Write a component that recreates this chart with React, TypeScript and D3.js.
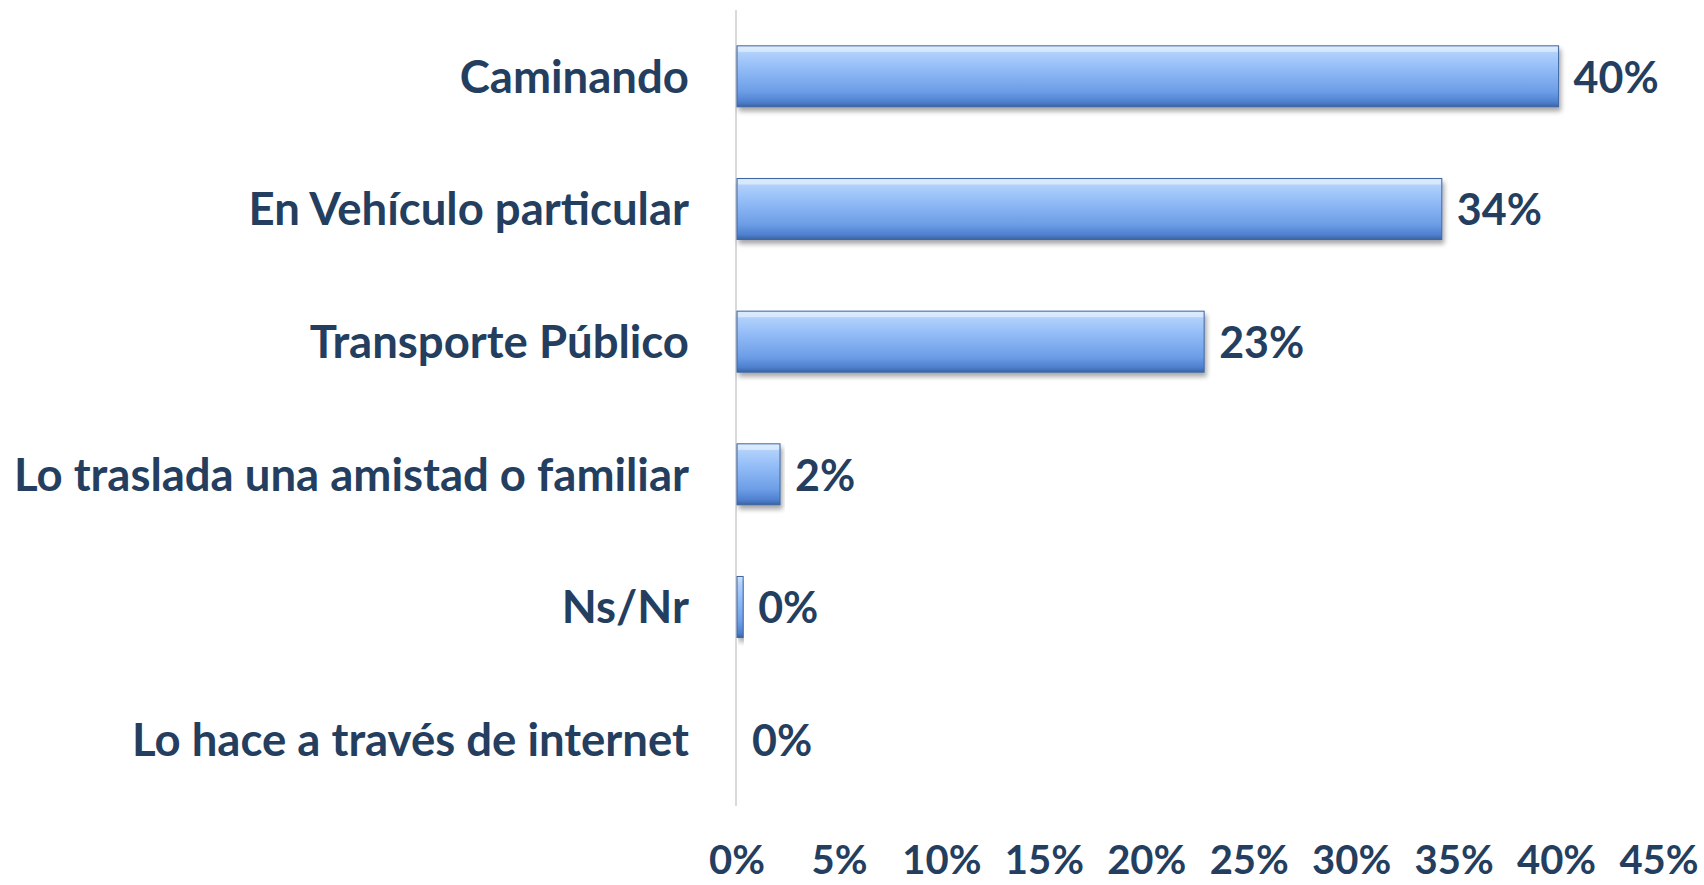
import React, { useEffect, useRef } from 'react';
import * as d3 from 'd3';

// categorias y valores (%)
const categorias = [
  'Caminando',
  'En Vehículo particular',
  'Transporte Público',
  'Lo traslada una amistad o familiar',
  'Ns/Nr',
  'Lo hace a través de internet',
];
const valores = [40.1, 34.4, 22.8, 2.1, 0.3, 0.0];
const ticks = [0, 5, 10, 15, 20, 25, 30, 35, 40, 45];

const App = () => {
  const chartRef = useRef<HTMLDivElement>(null);

  useEffect(() => {
    document.body.style.margin = '0';
    const W = 1704;
    const H = 885;
    const left = 737;
    const top = 10;
    const plotBottom = 806;
    const textColor = '#243e60';
    const font = 'Lato, "Open Sans", sans-serif';

    d3.select(chartRef.current).select('svg').remove();
    const svg = d3
      .select(chartRef.current)
      .append('svg')
      .attr('width', W)
      .attr('height', H)
      .style('display', 'block')
      .style('font-family', font);

    const defs = svg.append('defs');
    const grad = defs
      .append('linearGradient')
      .attr('id', 'barGrad')
      .attr('x1', 0)
      .attr('y1', 0)
      .attr('x2', 0)
      .attr('y2', 1);
    [
      ['0%', '#cfe3fb'],
      ['12%', '#b0d0fb'],
      ['35%', '#95bef8'],
      ['75%', '#6c9de6'],
      ['92%', '#4e80cf'],
      ['100%', '#3b63a0'],
    ].forEach(([o, c]) => grad.append('stop').attr('offset', o).attr('stop-color', c));

    const shadow = defs.append('filter').attr('id', 'sombra').attr('x', '-5%').attr('y', '-20%').attr('width', '115%').attr('height', '160%');
    shadow.append('feGaussianBlur').attr('in', 'SourceAlpha').attr('stdDeviation', 2.5);
    shadow.append('feOffset').attr('dx', 2).attr('dy', 4).attr('result', 'off');
    shadow.append('feComponentTransfer').append('feFuncA').attr('type', 'linear').attr('slope', 0.35);
    const merge = shadow.append('feMerge');
    merge.append('feMergeNode');
    merge.append('feMergeNode').attr('in', 'SourceGraphic');

    const x = d3.scaleLinear().domain([0, 45]).range([left, 1659]);
    const y = d3.scaleBand().domain(categorias).range([top, plotBottom]).paddingInner(0.54).paddingOuter(0.27);

    const datos = categorias.map((c, i) => ({ cat: c, val: valores[i] }));

    // eje vertical
    svg
      .append('line')
      .attr('x1', left - 1)
      .attr('x2', left - 1)
      .attr('y1', top)
      .attr('y2', plotBottom)
      .attr('stroke', '#d9d9d9')
      .attr('stroke-width', 2);

    // barras
    const barras = svg.append('g');
    barras
      .selectAll('rect.bar')
      .data(datos.filter(d => d.val > 0))
      .enter()
      .append('rect')
      .attr('class', 'bar')
      .attr('x', x(0))
      .attr('y', d => y(d.cat)!)
      .attr('width', d => x(d.val) - x(0))
      .attr('height', y.bandwidth())
      .attr('fill', 'url(#barGrad)')
      .attr('stroke', '#3e66a3')
      .attr('stroke-width', 1)
      .attr('filter', 'url(#sombra)');

    // brillo superior (bisel)
    barras
      .selectAll('rect.brillo')
      .data(datos.filter(d => x(d.val) - x(0) > 8))
      .enter()
      .append('rect')
      .attr('class', 'brillo')
      .attr('x', x(0) + 1)
      .attr('y', d => y(d.cat)! + 1)
      .attr('width', d => x(d.val) - x(0) - 2)
      .attr('height', 5)
      .attr('fill', '#e2effd')
      .attr('opacity', 0.7);

    // etiquetas de categoria
    svg
      .append('g')
      .selectAll('text')
      .data(datos)
      .enter()
      .append('text')
      .attr('x', 689)
      .attr('y', d => y(d.cat)! + y.bandwidth() / 2)
      .attr('dy', '0.36em')
      .attr('text-anchor', 'end')
      .style('font-size', '45.5px')
      .style('font-weight', 'bold')
      .attr('fill', textColor)
      .text(d => d.cat);

    // valores
    svg
      .append('g')
      .selectAll('text')
      .data(datos)
      .enter()
      .append('text')
      .attr('x', d => x(d.val) + 15)
      .attr('y', d => y(d.cat)! + y.bandwidth() / 2)
      .attr('dy', '0.38em')
      .style('font-size', '43px')
      .style('font-weight', 'bold')
      .attr('fill', textColor)
      .text(d => `${Math.round(d.val)}%`);

    // eje x (solo etiquetas)
    svg
      .append('g')
      .selectAll('text')
      .data(ticks)
      .enter()
      .append('text')
      .attr('x', d => x(d))
      .attr('y', 874)
      .attr('text-anchor', 'middle')
      .style('font-size', '40px')
      .style('font-weight', 'bold')
      .attr('fill', textColor)
      .text(d => `${d}%`);
  }, []);

  return <div ref={chartRef} style={{ width: 1704, height: 885, overflow: 'hidden' }}></div>;
};

export default App;
